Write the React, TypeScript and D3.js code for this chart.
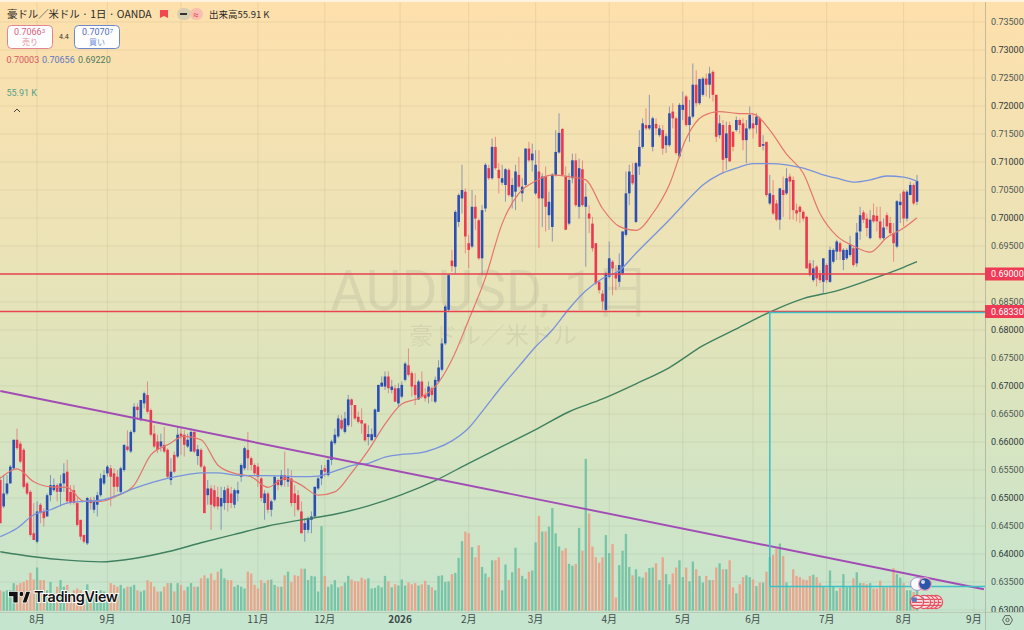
import * as d3 from "d3";

// daily candles, oldest first (one row = 10 sessions)
const opens = [
  0.6532,0.6485,0.6508,0.6526,0.6553,0.6604,0.6597,0.6586,0.6526,0.6511,
  0.6437,0.6422,0.6488,0.6476,0.6467,0.6505,0.6514,0.6523,0.6511,0.6526,
  0.6547,0.6511,0.6514,0.6491,0.6461,0.6434,0.6419,0.6497,0.6479,0.6488,
  0.6505,0.6526,0.6544,0.6553,0.6544,0.6538,0.6511,0.6550,0.6592,0.6583,
  0.6618,0.6663,0.6639,0.6669,0.6684,0.6657,0.6615,0.6601,0.6592,0.6595,
  0.6586,0.6532,0.6577,0.6574,0.6615,0.6613,0.6592,0.6583,0.6618,0.6575,
  0.6586,0.6556,0.6505,0.6517,0.6514,0.6502,0.6485,0.6491,0.6517,0.6508,
  0.6488,0.6508,0.6538,0.6553,0.6586,0.6571,0.6559,0.6556,0.6535,0.6491,
  0.6508,0.6479,0.6497,0.6532,0.6523,0.6541,0.6529,0.6535,0.6508,0.6505,
  0.6476,0.6443,0.6443,0.6461,0.6467,0.6517,0.6535,0.6553,0.6541,0.6568,
  0.6598,0.6610,0.6639,0.6618,0.6630,0.6676,0.6666,0.6645,0.6639,0.6633,
  0.6609,0.6603,0.6609,0.6654,0.6699,0.6699,0.6717,0.6693,0.6696,0.6669,
  0.6681,0.6711,0.6737,0.6723,0.6702,0.6676,0.6708,0.6684,0.6681,0.6696,
  0.6672,0.6708,0.6729,0.6776,0.6836,0.6924,0.6913,0.6993,0.7035,0.7047,
  0.6955,0.6949,0.7020,0.6996,0.6928,0.7017,0.7089,0.7071,0.7127,0.7086,
  0.7063,0.7059,0.7086,0.7038,0.7047,0.7077,0.7044,0.7059,0.7124,0.7103,
  0.7044,0.7083,0.7035,0.7074,0.7005,0.6984,0.7077,0.7117,0.7159,0.7074,
  0.6990,0.7071,0.7103,0.7020,0.7087,0.7020,0.7008,0.6990,0.6955,0.6886,
  0.6865,0.6836,0.6895,0.6922,0.6901,0.6886,0.6901,0.6970,0.7044,0.7077,
  0.6993,0.7092,0.7127,0.7166,0.7160,0.7127,0.7168,0.7148,0.7157,0.7130,
  0.7130,0.7190,0.7178,0.7110,0.7193,0.7217,0.7166,0.7181,0.7238,0.7205,
  0.7220,0.7249,0.7238,0.7261,0.7220,0.7148,0.7166,0.7107,0.7166,0.7154,
  0.7157,0.7175,0.7169,0.7139,0.7160,0.7169,0.7166,0.7178,0.7129,0.7136,
  0.7026,0.7041,0.7026,0.6997,0.7050,0.7044,0.7074,0.7068,0.7014,0.7020,
  0.7011,0.7002,0.6919,0.6889,0.6913,0.6901,0.6886,0.6916,0.6886,0.6922,
  0.6940,0.6955,0.6925,0.6928,0.6934,0.6946,0.6919,0.6976,0.7010,0.6999,
  0.6964,0.7005,0.7004,0.6994,0.6964,0.7005,0.6991,0.6973,0.6949,0.7023,
  0.7047,0.6999,0.7041,0.7059,0.7029,
];
const closes = [
  0.6455,0.6508,0.6526,0.6556,0.6604,0.6589,0.6565,0.6520,0.6508,0.6434,
  0.6425,0.6476,0.6473,0.6464,0.6505,0.6523,0.6523,0.6511,0.6526,0.6544,
  0.6494,0.6491,0.6491,0.6452,0.6431,0.6422,0.6500,0.6491,0.6494,0.6505,
  0.6535,0.6541,0.6556,0.6538,0.6520,0.6520,0.6553,0.6595,0.6586,0.6618,
  0.6663,0.6657,0.6675,0.6687,0.6654,0.6613,0.6592,0.6586,0.6601,0.6583,
  0.6538,0.6547,0.6547,0.6613,0.6610,0.6595,0.6604,0.6618,0.6583,0.6587,
  0.6556,0.6473,0.6517,0.6488,0.6485,0.6485,0.6500,0.6514,0.6491,0.6491,
  0.6514,0.6514,0.6559,0.6589,0.6571,0.6559,0.6544,0.6538,0.6500,0.6508,
  0.6479,0.6494,0.6538,0.6523,0.6541,0.6532,0.6538,0.6491,0.6491,0.6479,
  0.6437,0.6455,0.6464,0.6467,0.6520,0.6535,0.6550,0.6547,0.6568,0.6601,
  0.6613,0.6642,0.6624,0.6642,0.6676,0.6666,0.6642,0.6636,0.6633,0.6603,
  0.6614,0.6614,0.6658,0.6702,0.6706,0.6717,0.6696,0.6699,0.6672,0.6696,
  0.6702,0.6740,0.6720,0.6699,0.6684,0.6708,0.6681,0.6678,0.6699,0.6684,
  0.6711,0.6733,0.6776,0.6842,0.6898,0.6914,0.7011,0.7041,0.7050,0.6967,
  0.6943,0.7020,0.6999,0.6928,0.7014,0.7095,0.7071,0.7127,0.7089,0.7071,
  0.7071,0.7087,0.7041,0.7059,0.7083,0.7056,0.7056,0.7124,0.7103,0.7115,
  0.7095,0.7035,0.7074,0.7020,0.7029,0.7077,0.7118,0.7152,0.7077,0.6979,
  0.7068,0.7103,0.7023,0.7089,0.7023,0.7038,0.6999,0.6946,0.6883,0.6871,
  0.6851,0.6901,0.6928,0.6910,0.6892,0.6916,0.6976,0.7044,0.7083,0.7062,
  0.7098,0.7127,0.7169,0.7160,0.7166,0.7178,0.7160,0.7160,0.7124,0.7146,
  0.7187,0.7178,0.7116,0.7202,0.7202,0.7166,0.7181,0.7238,0.7205,0.7248,
  0.7249,0.7238,0.7258,0.7220,0.7145,0.7169,0.7104,0.7151,0.7101,0.7127,
  0.7175,0.7166,0.7139,0.7160,0.7184,0.7160,0.7181,0.7127,0.7132,0.7041,
  0.7044,0.7008,0.6997,0.7053,0.7041,0.7071,0.7065,0.7014,0.7008,0.7011,
  0.6999,0.6910,0.6898,0.6910,0.6892,0.6889,0.6928,0.6889,0.6943,0.6943,
  0.6958,0.6940,0.6943,0.6943,0.6952,0.6916,0.6974,0.7005,0.6997,0.6982,
  0.6997,0.6994,0.6994,0.6964,0.6983,0.6985,0.6973,0.6955,0.7030,0.7029,
  0.6999,0.7047,0.7059,0.7026,0.7066,
];
const highs = [
  0.6538,0.6541,0.6541,0.6559,0.6604,0.6624,0.6601,0.6589,0.6529,0.6514,
  0.6491,0.6494,0.6491,0.6482,0.6508,0.6541,0.6535,0.6526,0.6541,0.6562,
  0.6568,0.6523,0.6523,0.6500,0.6461,0.6434,0.6502,0.6502,0.6502,0.6511,
  0.6544,0.6550,0.6559,0.6559,0.6553,0.6550,0.6556,0.6595,0.6621,0.6621,
  0.6669,0.6669,0.6675,0.6690,0.6708,0.6660,0.6630,0.6613,0.6615,0.6627,
  0.6589,0.6571,0.6583,0.6627,0.6627,0.6621,0.6615,0.6624,0.6621,0.6595,
  0.6589,0.6559,0.6532,0.6523,0.6523,0.6520,0.6520,0.6520,0.6523,0.6520,
  0.6517,0.6529,0.6562,0.6592,0.6618,0.6574,0.6562,0.6562,0.6538,0.6514,
  0.6511,0.6497,0.6541,0.6535,0.6550,0.6583,0.6553,0.6550,0.6523,0.6514,
  0.6494,0.6464,0.6467,0.6476,0.6520,0.6538,0.6559,0.6559,0.6571,0.6604,
  0.6624,0.6648,0.6648,0.6654,0.6684,0.6678,0.6666,0.6654,0.6660,0.6633,
  0.6630,0.6624,0.6660,0.6702,0.6717,0.6726,0.6726,0.6711,0.6702,0.6705,
  0.6708,0.6743,0.6767,0.6726,0.6723,0.6711,0.6726,0.6696,0.6708,0.6699,
  0.6717,0.6746,0.6785,0.6845,0.6900,0.6943,0.7014,0.7044,0.7095,0.7053,
  0.6970,0.7050,0.7041,0.6999,0.7023,0.7098,0.7095,0.7142,0.7145,0.7098,
  0.7095,0.7089,0.7089,0.7071,0.7095,0.7109,0.7071,0.7124,0.7136,0.7133,
  0.7121,0.7121,0.7080,0.7092,0.7047,0.7080,0.7157,0.7187,0.7161,0.7092,
  0.7080,0.7115,0.7115,0.7106,0.7103,0.7062,0.7023,0.7002,0.6955,0.6889,
  0.6871,0.6904,0.6958,0.6925,0.6916,0.6937,0.6976,0.7083,0.7095,0.7098,
  0.7100,0.7157,0.7178,0.7196,0.7220,0.7181,0.7178,0.7166,0.7166,0.7151,
  0.7199,0.7205,0.7181,0.7205,0.7226,0.7220,0.7211,0.7276,0.7264,0.7249,
  0.7252,0.7258,0.7270,0.7264,0.7220,0.7184,0.7175,0.7172,0.7172,0.7154,
  0.7181,0.7178,0.7178,0.7175,0.7199,0.7187,0.7187,0.7181,0.7148,0.7136,
  0.7077,0.7068,0.7032,0.7053,0.7074,0.7089,0.7079,0.7074,0.7026,0.7023,
  0.7014,0.7004,0.6925,0.6925,0.6916,0.6907,0.6928,0.6919,0.6949,0.6946,
  0.6961,0.6958,0.6946,0.6946,0.6968,0.6949,0.6991,0.7020,0.7014,0.7008,
  0.7014,0.7026,0.7020,0.7020,0.6999,0.7010,0.7002,0.6991,0.7032,0.7044,
  0.7050,0.7050,0.7065,0.7062,0.7077,
];
const lows = [
  0.6455,0.6482,0.6505,0.6526,0.6550,0.6586,0.6562,0.6517,0.6505,0.6431,
  0.6425,0.6419,0.6455,0.6449,0.6467,0.6494,0.6511,0.6494,0.6485,0.6511,
  0.6491,0.6488,0.6488,0.6449,0.6425,0.6419,0.6416,0.6479,0.6473,0.6467,
  0.6502,0.6523,0.6538,0.6485,0.6500,0.6511,0.6508,0.6547,0.6583,0.6580,
  0.6615,0.6639,0.6637,0.6660,0.6651,0.6610,0.6589,0.6580,0.6583,0.6580,
  0.6535,0.6523,0.6544,0.6571,0.6577,0.6574,0.6589,0.6583,0.6580,0.6559,
  0.6553,0.6473,0.6488,0.6443,0.6482,0.6479,0.6443,0.6479,0.6476,0.6482,
  0.6482,0.6494,0.6529,0.6550,0.6550,0.6550,0.6541,0.6520,0.6494,0.6461,
  0.6473,0.6467,0.6494,0.6514,0.6520,0.6520,0.6520,0.6485,0.6467,0.6476,
  0.6437,0.6422,0.6437,0.6437,0.6464,0.6514,0.6523,0.6538,0.6538,0.6559,
  0.6595,0.6607,0.6621,0.6615,0.6627,0.6627,0.6639,0.6633,0.6615,0.6600,
  0.6594,0.6603,0.6606,0.6654,0.6699,0.6693,0.6687,0.6687,0.6672,0.6663,
  0.6678,0.6708,0.6717,0.6681,0.6666,0.6675,0.6678,0.6672,0.6669,0.6672,
  0.6669,0.6705,0.6726,0.6773,0.6833,0.6904,0.6901,0.6984,0.7008,0.6937,
  0.6910,0.6946,0.6979,0.6925,0.6898,0.7011,0.7068,0.7068,0.7086,0.7044,
  0.7059,0.7029,0.7038,0.7017,0.7014,0.7053,0.7029,0.7056,0.7100,0.7083,
  0.7041,0.6946,0.6984,0.6976,0.6979,0.6958,0.7074,0.7115,0.7077,0.6979,
  0.6987,0.7062,0.7020,0.6999,0.7020,0.6913,0.6973,0.6940,0.6880,0.6865,
  0.6836,0.6833,0.6892,0.6862,0.6871,0.6877,0.6898,0.6967,0.7023,0.7059,
  0.6991,0.7077,0.7124,0.7157,0.7157,0.7119,0.7148,0.7145,0.7113,0.7116,
  0.7127,0.7160,0.7113,0.7107,0.7175,0.7163,0.7136,0.7178,0.7199,0.7202,
  0.7217,0.7217,0.7214,0.7208,0.7136,0.7142,0.7080,0.7086,0.7101,0.7119,
  0.7154,0.7151,0.7121,0.7098,0.7157,0.7142,0.7151,0.7127,0.7121,0.7038,
  0.7023,0.7005,0.6994,0.6979,0.7002,0.7041,0.6997,0.6997,0.6994,0.6991,
  0.6994,0.6910,0.6895,0.6886,0.6878,0.6884,0.6866,0.6884,0.6884,0.6919,
  0.6925,0.6925,0.6907,0.6925,0.6931,0.6913,0.6913,0.6961,0.6991,0.6967,
  0.6962,0.6991,0.6976,0.6961,0.6961,0.6979,0.6970,0.6922,0.6946,0.6991,
  0.6985,0.6994,0.7041,0.7023,0.7023,
];
// volume in thousands
const volumes = [
  34,32,34,34,46,43,46,48,51,63,
  52,72,51,51,34,48,29,40,51,40,
  43,29,34,37,34,29,44,29,34,32,
  34,32,29,46,43,40,43,37,40,40,
  43,34,32,34,51,48,40,32,32,40,
  46,46,32,46,43,34,40,46,40,40,
  54,59,54,62,51,65,70,54,51,51,
  40,43,40,37,65,62,43,37,51,46,
  51,52,43,40,40,59,65,48,59,58,
  70,70,51,58,57,32,141,58,40,44,
  51,39,41,47,58,52,49,49,55,52,
  54,37,38,42,39,58,49,39,44,42,
  52,42,47,44,46,42,44,50,43,39,
  34,58,59,48,49,61,63,88,116,132,
  129,106,89,109,73,62,56,84,84,89,
  34,77,51,64,105,71,58,53,65,67,
  114,158,132,132,140,171,129,107,100,104,
  78,75,78,138,100,253,162,107,89,80,
  89,126,96,111,22,76,100,128,73,59,
  69,57,55,64,71,72,79,51,89,61,
  44,62,72,84,56,72,49,82,69,58,
  47,58,51,51,72,79,69,69,84,39,
  29,44,56,59,56,52,41,47,47,65,
  89,93,104,112,91,47,39,69,58,56,
  52,51,58,60,56,46,41,38,67,40,
  33,38,61,39,40,54,64,46,46,44,
  46,37,37,50,39,39,41,71,61,55,
  46,34,34,31,55.91,
];

// moving averages, read every 5 sessions (plus the last one)
const fastMaIndex = [...d3.range(0, 275, 5), 274];
const fastMa = [
  0.6535,0.6552,0.6529,0.6520,0.6519,0.6494,0.6494,0.6504,0.6523,0.6577,
  0.6595,0.6610,0.6604,0.6559,0.6544,0.6538,0.6519,0.6535,0.6523,0.6505,
  0.6511,0.6545,0.6585,0.6632,0.6668,0.6678,0.6699,0.6747,0.6818,0.6893,
  0.6990,0.7044,0.7066,0.7077,0.7074,0.7068,0.7017,0.6985,0.6978,0.7008,
  0.7060,0.7142,0.7182,0.7190,0.7187,0.7186,0.7157,0.7114,0.7080,0.7008,
  0.6968,0.6950,0.6939,0.6965,0.6982,0.70003,
];
const midMa = [
  0.6431,0.6446,0.6470,0.6479,0.6491,0.6494,0.6496,0.6505,0.6517,0.6527,
  0.6535,0.6541,0.6545,0.6545,0.6541,0.6540,0.6540,0.6539,0.6538,0.6539,
  0.6548,0.6558,0.6562,0.6573,0.6578,0.6580,0.6588,0.6602,0.6625,0.6662,
  0.6700,0.6735,0.6770,0.6800,0.6838,0.6870,0.6892,0.6906,0.6937,0.6967,
  0.6997,0.7029,0.7059,0.7078,0.7089,0.7097,0.7097,0.7095,0.7089,0.7079,
  0.7071,0.7064,0.7068,0.7075,0.7073,0.70656,
];
const slowMaIndex = [...d3.range(0, 275, 10), 274];
const slowMa = [
  0.6404,0.6395,0.6389,0.6386,0.6392,0.6404,0.6420,0.6435,0.6450,0.6461,
  0.6471,0.6486,0.6506,0.6531,0.6562,0.6592,0.6622,0.6654,0.6677,0.6704,
  0.6733,0.6772,0.6802,0.6832,0.6856,0.6870,0.6890,0.6912,0.69220,
];

const priceTicks = d3.range(0, 22).map((i) => 0.63 + i * 0.005);
const monthTicks = [11, 32, 54, 77, 97, 119.5, 140, 160, 182, 204, 225, 247, 270, 291];
const monthLabels = ["8月", "9月", "10月", "11月", "12月", "2026", "2月", "3月", "4月", "5月", "6月", "7月", "8月", "9月"];

// drawn levels
const trendIndex = [0, 294];
const trendPrice = [0.6691, 0.6337];
const levels = [0.69, 0.6833];
const boxStartIndex = 230;
const boxBottom = 0.6342;

const W = 1024;
const H = 630;
const plotRight = 985;
const plotBottom = 612;

const x = d3.scaleLinear().domain([0, 274]).range([0.3, 917]);
const y = d3.scaleLinear().domain([0.63, 0.735]).range([610, 22]);
const vol = d3.scaleLinear().domain([0, 100]).range([610.7, 550.7]);

const UP = "#2c4fb2";
const DOWN = "#ea3a50";
const jp = "'Noto Sans CJK JP', 'Noto Sans', sans-serif";
const num = "Roboto, 'Noto Sans', sans-serif";

function maPath(index: number[], values: number[]) {
  const line = d3
    .line<number>()
    .x((_, i) => x(index[i]))
    .y((d) => y(d))
    .curve(d3.curveMonotoneX);
  return line(values) ?? "";
}

function UsFlag({ cx, cy }: { cx: number; cy: number }) {
  return (
    <g>
      <circle cx={cx} cy={cy} r={6.6} fill="#fbeeee" stroke="#e4505f" strokeWidth={1.2} />
      {[-2.6, 0.4, 3.4].map((d) => (
        <rect key={d} x={cx - 5.4} y={cy + d - 0.7} width={10.8} height={1.4} fill="#e4525f" />
      ))}
      <rect x={cx - 5.2} y={cy - 4.6} width={5} height={4.4} fill="#5a78c0" />
    </g>
  );
}

export default function App() {
  const candles = d3.range(opens.length);
  return (
    <svg
      width={W}
      height={H}
      viewBox={`0 0 ${W} ${H}`}
      style={{ position: "fixed", left: 0, top: 0, display: "block" }}
    >
      <defs>
        <linearGradient id="bg" x1="0" y1="0" x2="0" y2="1">
          <stop offset="0%" stopColor="#fee0ac" />
          <stop offset="40%" stopColor="#ebe3b7" />
          <stop offset="62%" stopColor="#dbe4bd" />
          <stop offset="100%" stopColor="#c5e5cf" />
        </linearGradient>
        <clipPath id="plot">
          <rect x={0} y={2} width={plotRight} height={plotBottom - 2} />
        </clipPath>
        <clipPath id="axisClip">
          <rect x={plotRight} y={0} width={W - plotRight} height={plotBottom} />
        </clipPath>
      </defs>

      <rect width={W} height={H} fill="url(#bg)" />

      {/* grid */}
      <g stroke="#7d7d60" strokeOpacity={0.13} strokeWidth={1}>
        {priceTicks.map((p) => (
          <line key={p} x1={0} x2={plotRight} y1={y(p)} y2={y(p)} />
        ))}
        {monthTicks.map((t) => (
          <line key={t} x1={x(t)} x2={x(t)} y1={2} y2={plotBottom} />
        ))}
      </g>

      {/* watermark */}
      <text x={490} y={310} textAnchor="middle" fontFamily={num} fontSize={55} fill="#77776a" fillOpacity={0.13}>
        AUDUSD, 1日
      </text>
      <text x={493} y={344} textAnchor="middle" fontFamily={jp} fontSize={24} fill="#77776a" fillOpacity={0.13}>
        豪ドル／米ドル
      </text>

      <g clipPath="url(#plot)">
        {/* volume */}
        {candles.map((i) => (
          <rect
            key={i}
            x={x(i) - 1.15}
            y={vol(volumes[i])}
            width={2.3}
            height={vol(0) - vol(volumes[i])}
            fill={closes[i] >= opens[i] ? "#6fc0a2" : "#ec9f86"}
            fillOpacity={0.9}
          />
        ))}

        {/* candles */}
        {candles.map((i) => {
          const color = closes[i] >= opens[i] ? UP : DOWN;
          const top = y(Math.max(opens[i], closes[i]));
          const bottom = y(Math.min(opens[i], closes[i]));
          return (
            <g key={i}>
              <line x1={x(i)} x2={x(i)} y1={y(highs[i])} y2={y(lows[i])} stroke={color} strokeOpacity={0.5} strokeWidth={1} />
              <rect x={x(i) - 1.3} y={top} width={2.6} height={Math.max(bottom - top, 1)} fill={color} />
            </g>
          );
        })}

        {/* moving averages */}
        <path d={maPath(fastMaIndex, fastMa)} fill="none" stroke="#e4756c" strokeWidth={1.2} />
        <path d={maPath(fastMaIndex, midMa)} fill="none" stroke="#7893dc" strokeWidth={1.3} />
        <path d={maPath(slowMaIndex, slowMa)} fill="none" stroke="#3f8060" strokeWidth={1.4} />

        {/* drawings */}
        {levels.map((l) => (
          <line key={l} x1={0} x2={plotRight} y1={y(l)} y2={y(l)} stroke="#e8434f" strokeWidth={1.5} />
        ))}
        <line x1={x(trendIndex[0])} x2={x(trendIndex[1])} y1={y(trendPrice[0])} y2={y(trendPrice[1])} stroke="#a24cb6" strokeWidth={1.9} />
        <g stroke="#3dbfc6" strokeWidth={1.6} fill="none">
          <line x1={x(boxStartIndex)} x2={x(boxStartIndex)} y1={y(levels[1])} y2={y(boxBottom)} />
          <line x1={x(boxStartIndex)} x2={plotRight} y1={y(boxBottom)} y2={y(boxBottom)} />
          <line x1={x(boxStartIndex)} x2={plotRight} y1={y(levels[1]) + 1} y2={y(levels[1]) + 1} />
        </g>
      </g>

      {/* event flags */}
      <circle cx={917} cy={584} r={6.4} fill="#fff" stroke="#a48ad0" strokeWidth={1} />
      <circle cx={925} cy={584} r={6.4} fill="#2c56a8" stroke="#e8a0b8" strokeWidth={1.2} />
      <circle cx={923} cy={582} r={2} fill="#d0dcf0" />
      {[936, 932, 928, 924, 917].map((cx) => (
        <UsFlag key={cx} cx={cx} cy={602} />
      ))}

      {/* TradingView mark */}
      <g transform="translate(9,587.2) scale(0.62,0.76)" fill="#111">
        <path d="M14 6H0v6h7v8h7V6zm14 14h-6l6-14h6l-6 14z" stroke="#fff" strokeWidth={2.2} paintOrder="stroke" />
        <circle cx={20} cy={9} r={3} stroke="#fff" strokeWidth={1.4} paintOrder="stroke" />
      </g>
      <text
        x={34}
        y={602}
        fontFamily="Inter, Roboto, sans-serif"
        fontWeight={600}
        fontSize={14.5}
        fill="#111"
        stroke="#fff"
        strokeWidth={2}
        paintOrder="stroke"
        textLength={84}
      >
        TradingView
      </text>

      {/* frame */}
      <rect x={0} y={0} width={W} height={2} fill="#fff" fillOpacity={0.6} />
      <line x1={plotRight + 0.5} x2={plotRight + 0.5} y1={2} y2={H} stroke="#a9a99a" strokeOpacity={0.7} />
      <line x1={0} x2={W} y1={plotBottom + 0.5} y2={plotBottom + 0.5} stroke="#a9a99a" strokeOpacity={0.45} />

      {/* price axis */}
      <g clipPath="url(#axisClip)" fontFamily={num} fontSize={9} textAnchor="start">
        {priceTicks.map((p, i) => (
          <text key={p} x={991} y={y(p) + 3.2} fill={i % 2 === 0 ? "#2f3a3c" : "#4d5856"}>
            {d3.format(".5f")(p)}
          </text>
        ))}
      </g>
      {levels.map((l) => (
        <g key={l}>
          <rect x={plotRight} y={y(l) - 6.5} width={W - plotRight} height={13} fill="#ef3a55" />
          <text x={991} y={y(l) + 3.2} fontFamily={num} fontSize={9} fill="#fff">
            {d3.format(".5f")(l)}
          </text>
        </g>
      ))}

      {/* time axis */}
      <g fontFamily={jp} fontSize={10} fill="#3e4a4a" textAnchor="middle">
        {monthLabels.map((m, i) => (
          <text key={i} x={x(monthTicks[i])} y={623} fontWeight={m === "2026" ? 700 : 400}>
            {m}
          </text>
        ))}
      </g>
      <g stroke="#555" fill="none" strokeWidth={0.9}>
        <path d="M1002.5 620l2.5-4.4h5l2.5 4.4-2.5 4.4h-5z" />
        <circle cx={1007.5} cy={620} r={1.7} />
      </g>

      {/* header */}
      <text x={7} y={18} fontFamily={jp} fontSize={10.4} fill="#2a2a28">
        豪ドル／米ドル · 1日 · OANDA
      </text>
      <path d="M160 10h8v8l-4-2-4 2z" fill="#f0484f" />
      <rect x={177} y={8} width={14} height={12} rx={6} fill="#d8cfb0" />
      <rect x={190} y={8} width={13} height={12} rx={6} fill="#f8c0b0" />
      <rect x={180} y={13} width={7} height={2} fill="#333" />
      <text x={193} y={17.5} fontFamily={num} fontSize={10} fill="#e8434f">≈</text>
      <text x={209} y={18} fontFamily={jp} fontSize={9.5} fill="#2a2a28">
        出来高55.91 K
      </text>

      <rect x={7.5} y={25.5} width={45} height={23} rx={4} fill="#fff" stroke="#e28494" />
      <text x={14} y={35} fontFamily={num} fontSize={9} fill="#d9607c">
        0.7066<tspan fontSize={6} dy={-2}>3</tspan>
      </text>
      <text x={30} y={45} textAnchor="middle" fontFamily={jp} fontSize={8} fill="#e887a0">売り</text>
      <text x={59} y={39} fontFamily={num} fontSize={7} fill="#333">4.4</text>
      <rect x={74.5} y={25.5} width={45} height={23} rx={4} fill="#fff" stroke="#6f87cf" />
      <text x={82} y={35} fontFamily={num} fontSize={9} fill="#4d6cc4">
        0.7070<tspan fontSize={6} dy={-2}>7</tspan>
      </text>
      <text x={97} y={45} textAnchor="middle" fontFamily={jp} fontSize={8} fill="#6f8fdc">買い</text>

      <g fontFamily={num} fontSize={9}>
        <text x={6.5} y={63} fill="#dc5560">0.70003</text>
        <text x={42} y={63} fill="#5d77c0">0.70656</text>
        <text x={78} y={63} fill="#4f7a60">0.69220</text>
        <text x={6.5} y={96} fill="#55a088">55.91 K</text>
      </g>
      <path d="M14 112l3-3 3 3" fill="none" stroke="#444" strokeWidth={1} />
    </svg>
  );
}
